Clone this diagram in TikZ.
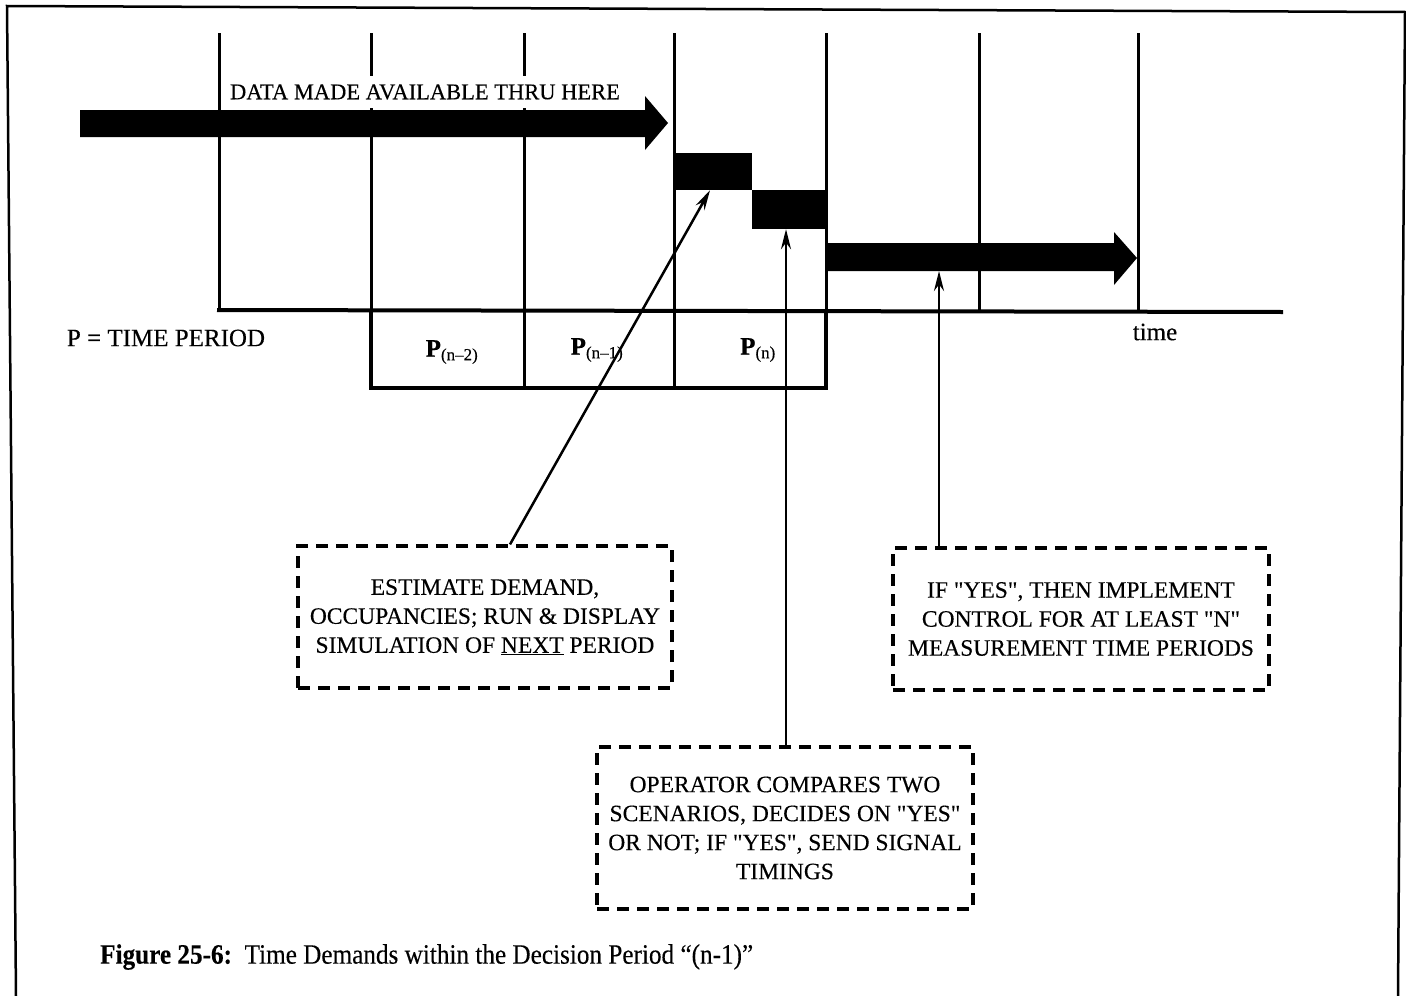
\documentclass[tikz,border=0pt]{standalone}
\usepackage{fontspec}
\setmainfont{Liberation Serif}[FakeBold=0.25]
\newfontfamily\capfont{Liberation Serif}[FakeStretch=0.9,FakeBold=0.25,Ligatures=TeX]
\usetikzlibrary{arrows.meta,calc}
\tikzset{
  gridline/.style={line width=3pt},
  dbox/.style={draw, line width=3.2pt, dash pattern=on 12pt off 8pt, align=center,
    font=\fontsize{23.5}{29}\selectfont, inner sep=0pt},
  blk/.style={fill=black, inner sep=0pt},
  thin/.style={line width=2.5pt, -{Stealth[length=20pt,width=10pt]}},
  txt/.style={inner sep=0pt, font=\fontsize{24}{28}\selectfont},
}
\begin{document}
\begin{tikzpicture}[x=1pt,y=-1pt]
\useasboundingbox (0,0) rectangle (1406,996);
% page frame
\draw[line width=2.5pt] (16,996) -- (7,6) -- (1405,12) -- (1398,996);
% vertical time lines
\foreach \x/\yb in {219/310,371/388,524/388,674/388,826/388,979/310,1138/310}
  \draw[gridline] (\x,33) -- (\x,\yb);
% time axis
\draw[line width=4pt] (217,310) -- (1283,312);
% period box
\draw[line width=4pt] (371,310) -- (371,388) -- (826,388) -- (826,310);
% data text
\node[txt, fill=white, inner ysep=8pt, inner xsep=4pt, font=\fontsize{22.5}{26}\selectfont] (data) at (425,92) {DATA MADE AVAILABLE THRU HERE};
% big arrow 1
\fill (80,110) -- (645,110) -- (645,96) -- (668,123) -- (645,150) -- (645,137) -- (80,137) -- cycle;
% blocks
\node[blk, minimum width=78pt, minimum height=37pt] (blockA) at (713,171.5) {};
\node[blk, minimum width=74pt, minimum height=39pt] (blockB) at (789,209.5) {};
% big arrow 2
\fill (826,243) -- (1114,243) -- (1114,232) -- (1137,258) -- (1114,285) -- (1114,271) -- (826,271) -- cycle;
\coordinate (arr2) at (939,271);
% labels
\node[txt, font=\fontsize{25}{28}\selectfont] (plabel) at (166,338) {P = TIME PERIOD};
\node[txt, font=\fontsize{25}{28}\selectfont] (timel) at (1155,332) {time};
\node[txt, font=\fontsize{25}{28}\selectfont] (p2) at (452,352) {\textbf{P}\textsubscript{\fontsize{17}{20}\selectfont(n--2)}};
\node[txt, font=\fontsize{25}{28}\selectfont] (p1) at (597,350) {\textbf{P}\textsubscript{\fontsize{17}{20}\selectfont(n--1)}};
\node[txt, font=\fontsize{25}{28}\selectfont] (p0) at (758,350) {\textbf{P}\textsubscript{\fontsize{17}{20}\selectfont(n)}};
% dashed boxes
\node[dbox, minimum width=374pt, minimum height=142pt] (est) at (485,617)
  {ESTIMATE DEMAND,\\OCCUPANCIES; RUN \& DISPLAY\\SIMULATION OF \underline{NEXT} PERIOD};
\node[dbox, minimum width=376pt, minimum height=142pt] (impl) at (1081,619)
  {IF \textquotedbl YES\textquotedbl, THEN IMPLEMENT\\CONTROL FOR AT LEAST \textquotedbl N\textquotedbl\\MEASUREMENT TIME PERIODS};
\node[dbox, minimum width=376pt, minimum height=162pt] (op) at (785,828)
  {OPERATOR COMPARES TWO\\SCENARIOS, DECIDES ON \textquotedbl YES\textquotedbl\\OR NOT; IF \textquotedbl YES\textquotedbl, SEND SIGNAL\\TIMINGS};
% thin arrows
\draw[thin] ($(est.north)+(25,0)$) -- ($(blockA.south)+(-3,0)$);
\draw[thin] ($(op.north)+(1,0)$) -- ($(blockB.south)+(-3,0)$);
\draw[thin] (impl.north -| arr2) -- (arr2);
% caption
\node[anchor=west, inner sep=0pt, font=\capfont\fontsize{28}{32}\selectfont] (cap) at (100,957)
  {\textbf{Figure 25-6:}\ \ Time Demands within the Decision Period “(n-1)”};
\end{tikzpicture}
\end{document}
